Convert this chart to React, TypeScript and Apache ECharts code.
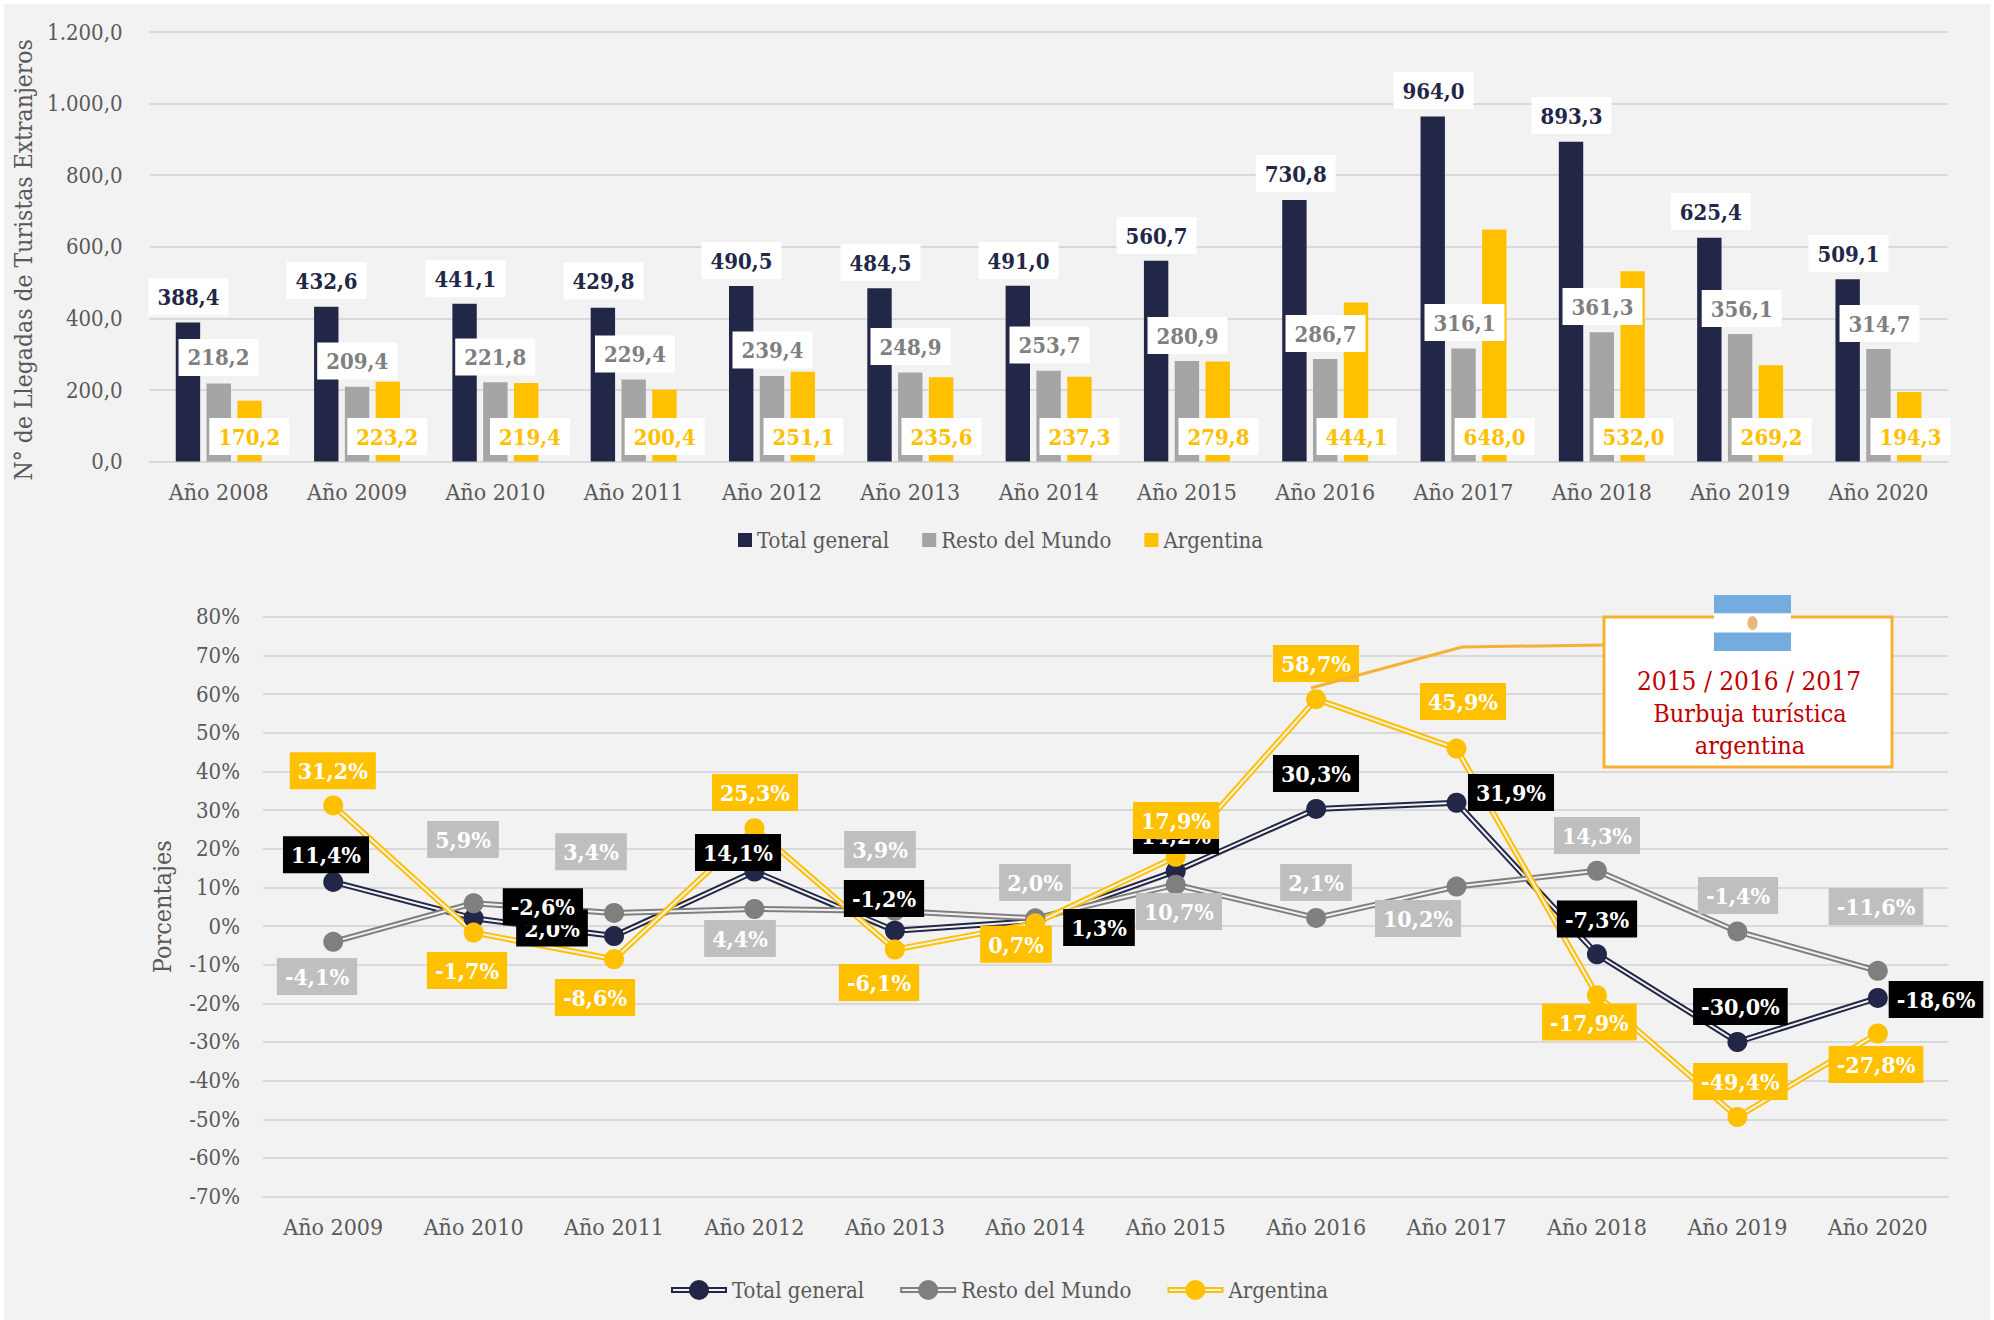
import React, { useEffect, useRef } from "react";
import * as echarts from "echarts";

const barYears = ["Año 2008","Año 2009","Año 2010","Año 2011","Año 2012","Año 2013","Año 2014","Año 2015","Año 2016","Año 2017","Año 2018","Año 2019","Año 2020"];
const barTotal = [388.4,432.6,441.1,429.8,490.5,484.5,491.0,560.7,730.8,964.0,893.3,625.4,509.1];
const barResto = [218.2,209.4,221.8,229.4,239.4,248.9,253.7,280.9,286.7,316.1,361.3,356.1,314.7];
const barArgentina = [170.2,223.2,219.4,200.4,251.1,235.6,237.3,279.8,444.1,648.0,532.0,269.2,194.3];

const lineYears = ["Año 2009","Año 2010","Año 2011","Año 2012","Año 2013","Año 2014","Año 2015","Año 2016","Año 2017","Año 2018","Año 2019","Año 2020"];
const pctTotal = [11.4,2.0,-2.6,14.1,-1.2,1.3,14.2,30.3,31.9,-7.3,-30.0,-18.6];
const pctResto = [-4.1,5.9,3.4,4.4,3.9,2.0,10.7,2.1,10.2,14.3,-1.4,-11.6];
const pctArgentina = [31.2,-1.7,-8.6,25.3,-6.1,0.7,17.9,58.7,45.9,-17.9,-49.4,-27.8];

// Hand-placed label centres (page pixels), as in the reference
const barTotalLabelAt = [[188.5,296.7],[326.6,280.5],[465.4,278.7],[603.5,281],[741.5,260.5],[880.5,262.5],[1018.5,260.5],[1156.5,235.5],[1295.7,173.5],[1433.5,90.5],[1571.5,115.5],[1710.7,211.5],[1848.5,253.5]];
const barRestoLabelAt = [[218.5,357.4],[357.2,361],[495.2,357],[635,354],[772.5,350],[910.5,346.5],[1049.5,345],[1187.5,335.5],[1325.5,333.5],[1464.5,322.5],[1602.5,306.5],[1741.7,308.5],[1879.5,323.5]];
const barArgLabelAt = [[249.3,436.5],[387.3,436.5],[530,436.5],[664.7,436.5],[803.5,436.5],[941.5,436.5],[1079.5,436.5],[1218.5,436.5],[1356.5,436.5],[1494.6,436.5],[1633.5,436.5],[1771.6,436.5],[1910.5,436.5]];
const pctTotalLabelAt = [[326,854.8],[552,928],[542.9,906.7],[738,852.5],[884,898.5],[1099,927.5],[1176,835.5],[1316,773.5],[1511,792.5],[1597,919],[1740.4,1006.5],[1936,999.5]];
const pctRestoLabelAt = [[317,976.5],[463,839.5],[591,851.8],[740,938.5],[880,849.5],[1035,882.5],[1179,911.5],[1316,882.5],[1418,918.5],[1597,835.5],[1738,895.5],[1876,906.5]];
const pctArgLabelAt = [[332.8,770.7],[467,970.5],[595,997.5],[755,792.5],[879,982.5],[1016,944.3],[1176,820.5],[1316,663.5],[1463,701.5],[1589.4,1022],[1740.4,1081.5],[1876,1064.5]];

const FONT = "'DejaVu Serif Condensed', 'DejaVu Serif', serif";
const NAVY = "#222747";
const GREY = "#A5A5A5";
const DGREY = "#7F7F7F";
const YEL = "#FFC000";
const TXT = "#595959";
const GRID = "#D9D9D9";
const BG = "#F2F2F2";

const G1 = { left: 149.6, top: 32, width: 1798, height: 429.6 };
const G2 = { left: 263, top: 616.8, width: 1685, height: 579.8 };
const BAR_W = 24.4;
const BAR_GAP = 6.4;
const LEGEND_ICON = "path://M0 7H56V13H0ZM2 9V11H54V9ZM18 10A10 10 0 1 1 38 10A10 10 0 1 1 18 10Z";

const comma = (v: number, d = 1) => v.toFixed(d).replace(".", ",");
const thousands = (v: number) => {
  const [a, b] = v.toFixed(1).split(".");
  return a.replace(/\B(?=(\d{3})+$)/g, ".") + "," + b;
};

function barSeries(name: string, values: number[], color: string, textColor: string, at: number[][], k: number) {
  const catW = G1.width / barYears.length;
  return {
    type: "bar",
    name,
    xAxisIndex: 0,
    yAxisIndex: 0,
    barWidth: BAR_W,
    barGap: (BAR_GAP / BAR_W * 100).toFixed(1) + "%",
    itemStyle: { color },
    z: 3,
    data: values.map((v, i) => {
      const cx = G1.left + catW * (i + 0.5) + k * (BAR_W + BAR_GAP);
      const cy = G1.top + G1.height - (v / 1200) * G1.height / 2;
      return {
        value: v,
        label: { offset: [at[i][0] - cx, at[i][1] - cy] },
      };
    }),
    label: {
      show: true,
      position: "inside",
      formatter: (p: any) => comma(p.value),
      color: textColor,
      backgroundColor: "#FFFFFF",
      fontFamily: FONT,
      fontWeight: "bold",
      fontSize: 22,
      lineHeight: 37,
      height: 37,
      padding: [0, 9],
    },
  };
}

function lineSeries(name: string, values: number[], line: string, marker: string, labelBg: string, at: number[][]) {
  const catW = G2.width / lineYears.length;
  const yOf = (v: number) => G2.top + ((80 - v) / 150) * G2.height;
  const base = { type: "line", xAxisIndex: 1, yAxisIndex: 1, showSymbol: false, silent: true, data: values, symbol: "none" };
  return [
    { ...base, name: name + " (trazo)", z: 3, lineStyle: { color: line, width: 6 } },
    { ...base, name: name + " (centro)", z: 3, lineStyle: { color: BG, width: 2 } },
    {
      type: "scatter",
      name,
      xAxisIndex: 1,
      yAxisIndex: 1,
      symbol: "circle",
      symbolSize: 20,
      z: 4,
      itemStyle: { color: marker, opacity: 1 },
      data: values.map((v, i) => ({
        value: v,
        label: { offset: [at[i][0] - (G2.left + catW * (i + 0.5)), at[i][1] - yOf(v)] },
      })),
      label: {
        show: true,
        position: "inside",
        formatter: (p: any) => comma(p.value) + "%",
        color: "#FFFFFF",
        backgroundColor: labelBg,
        fontFamily: FONT,
        fontWeight: "bold",
        fontSize: 23,
        lineHeight: 37,
        height: 37,
        padding: [0, 8],
      },
    },
  ];
}

const axisText = { color: TXT, fontFamily: FONT, fontSize: 22 };

const option: any = {
  animation: false,
  backgroundColor: "transparent",
  textStyle: { fontFamily: FONT },
  grid: [
    { ...G1, containLabel: false },
    { ...G2, containLabel: false },
  ],
  xAxis: [
    {
      type: "category", gridIndex: 0, data: barYears,
      axisTick: { show: false },
      axisLine: { lineStyle: { color: GRID, width: 2 } },
      axisLabel: { ...axisText, fontSize: 23, margin: 19, interval: 0 },
    },
    {
      type: "category", gridIndex: 1, data: lineYears,
      axisTick: { show: false },
      axisLine: { onZero: false, lineStyle: { color: GRID, width: 2 } },
      axisLabel: { ...axisText, fontSize: 23, margin: 19, interval: 0 },
    },
  ],
  yAxis: [
    {
      type: "value", gridIndex: 0, min: 0, max: 1200, interval: 200,
      name: "N° de Llegadas de Turistas Extranjeros",
      nameLocation: "middle", nameGap: 111, nameRotate: 90,
      nameTextStyle: { ...axisText, fontSize: 24.5, padding: [0, 26, 0, 0] },
      axisLine: { show: false }, axisTick: { show: false },
      splitLine: { lineStyle: { color: GRID, width: 2 } },
      axisLabel: { ...axisText, margin: 27, formatter: (v: number) => thousands(v) },
    },
    {
      type: "value", gridIndex: 1, min: -70, max: 80, interval: 10,
      name: "Porcentajes",
      nameLocation: "middle", nameGap: 88, nameRotate: 90,
      nameTextStyle: { ...axisText, fontSize: 25 },
      axisLine: { show: false }, axisTick: { show: false },
      splitLine: { lineStyle: { color: GRID, width: 2 } },
      axisLabel: { ...axisText, margin: 23, formatter: (v: number) => v + "%" },
    },
  ],
  legend: [
    {
      left: 733, top: 524, itemWidth: 14, itemHeight: 14, itemGap: 33, icon: "rect",
      textStyle: { ...axisText },
      selectedMode: false,
      data: [
        { name: "Total general", itemStyle: { color: NAVY } },
        { name: "Resto del Mundo", itemStyle: { color: GREY } },
        { name: "Argentina", itemStyle: { color: YEL } },
      ],
    },
    {
      left: 666, top: 1274, itemWidth: 56, itemHeight: 20, itemGap: 36,
      textStyle: { ...axisText },
      selectedMode: false,
      data: [
        { name: "Total general", icon: LEGEND_ICON, itemStyle: { color: NAVY } },
        { name: "Resto del Mundo", icon: LEGEND_ICON, itemStyle: { color: DGREY } },
        { name: "Argentina", icon: LEGEND_ICON, itemStyle: { color: YEL } },
      ],
    },
  ],
  graphic: [
    { type: "polyline", z: 20, shape: { points: [[1311, 688], [1462, 647], [1604, 645]] }, style: { stroke: "#F4B233", lineWidth: 3, fill: "none" } },
    { type: "rect", z: 20, shape: { x: 1604, y: 617, width: 288, height: 150 }, style: { fill: "#FFFFFF", stroke: "#F4B233", lineWidth: 3 } },
    { type: "rect", z: 21, shape: { x: 1714, y: 595, width: 77, height: 18.5 }, style: { fill: "#74ACDF" } },
    { type: "rect", z: 21, shape: { x: 1714, y: 613.5, width: 77, height: 19 }, style: { fill: "#FFFFFF" } },
    { type: "rect", z: 21, shape: { x: 1714, y: 632.5, width: 77, height: 18.5 }, style: { fill: "#74ACDF" } },
    { type: "ellipse", z: 22, shape: { cx: 1752.5, cy: 623, rx: 5, ry: 7 }, style: { fill: "#E8B877" } },
    { type: "text", z: 22, x: 1749, y: 681, style: { text: "2015 / 2016 / 2017", fill: "#C00000", font: "26px " + FONT, align: "center", verticalAlign: "middle" } },
    { type: "text", z: 22, x: 1750, y: 713, style: { text: "Burbuja turística", fill: "#C00000", font: "25px " + FONT, align: "center", verticalAlign: "middle" } },
    { type: "text", z: 22, x: 1750, y: 745, style: { text: "argentina", fill: "#C00000", font: "25px " + FONT, align: "center", verticalAlign: "middle" } },
  ],
  series: [
    barSeries("Total general", barTotal, NAVY, "#222747", barTotalLabelAt, -1),
    barSeries("Resto del Mundo", barResto, GREY, DGREY, barRestoLabelAt, 0),
    barSeries("Argentina", barArgentina, YEL, YEL, barArgLabelAt, 1),
    ...lineSeries("Total general", pctTotal, NAVY, NAVY, "#000000", pctTotalLabelAt),
    ...lineSeries("Resto del Mundo", pctResto, DGREY, DGREY, "#BFBFBF", pctRestoLabelAt),
    ...lineSeries("Argentina", pctArgentina, YEL, YEL, YEL, pctArgLabelAt),
  ],
};

export default function App() {
  const ref = useRef<HTMLDivElement>(null);
  useEffect(() => {
    const chart = echarts.init(ref.current!, undefined, { renderer: "svg", width: 1994, height: 1320 });
    chart.setOption(option);
    return () => chart.dispose();
  }, []);
  return (
    <div style={{ position: "absolute", left: 0, top: 0, width: 1994, height: 1320, background: "#FFFFFF", overflow: "hidden" }}>
      <div style={{ position: "absolute", left: 4, top: 4, width: 1986, height: 1316, background: BG }} />
      <div ref={ref} style={{ position: "absolute", left: 0, top: 0, width: 1994, height: 1320 }} />
    </div>
  );
}
